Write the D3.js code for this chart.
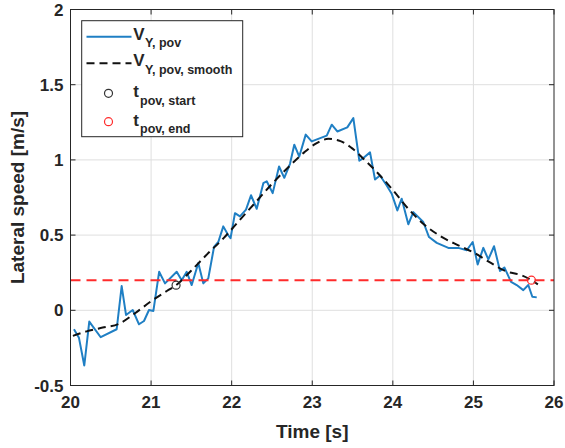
<!DOCTYPE html>
<html>
<head>
<meta charset="utf-8">
<script src="https://cdn.jsdelivr.net/npm/d3@7"></script>
<style>
  html, body { margin: 0; padding: 0; background: #fff; }
  svg text { font-family: "Liberation Sans", Arial, Helvetica, sans-serif; font-weight: bold; fill: #262626; }
</style>
</head>
<body>
<svg id="chart" width="565" height="448"></svg>
<script>
// Measured lateral speed (time in s, speed in m/s)
const rawTime = [20.043, 20.105, 20.171, 20.233, 20.375, 20.573, 20.635, 20.689, 20.772, 20.850,
  20.912, 20.974, 21.028, 21.100, 21.173, 21.318, 21.380, 21.442, 21.504, 21.586,
  21.648, 21.710, 21.781, 21.834, 21.896, 21.958, 21.986, 22.041, 22.103, 22.178,
  22.240, 22.311, 22.393, 22.435, 22.509, 22.588, 22.653, 22.724, 22.777, 22.839,
  22.919, 22.993, 23.180, 23.242, 23.311, 23.435, 23.510, 23.584, 23.634, 23.717,
  23.779, 23.841, 23.924, 23.986, 24.056, 24.110, 24.192, 24.254, 24.378, 24.449,
  24.545, 24.689, 24.813, 24.917, 24.991, 25.053, 25.123, 25.185, 25.256, 25.330,
  25.384, 25.467, 25.537, 25.619, 25.681, 25.731, 25.786];
const rawSpeed = [-0.126, -0.183, -0.367, -0.075, -0.179, -0.126, 0.161, -0.031, 0.002, -0.093,
  -0.071, 0.002, -0.005, 0.256, 0.179, 0.256, 0.200, 0.256, 0.168, 0.315,
  0.179, 0.212, 0.421, 0.454, 0.558, 0.499, 0.479, 0.646, 0.624, 0.669,
  0.765, 0.675, 0.845, 0.858, 0.779, 0.956, 0.881, 0.974, 1.101, 1.022,
  1.168, 1.123, 1.161, 1.234, 1.189, 1.216, 1.278, 0.995, 1.012, 1.050,
  0.870, 0.896, 0.830, 0.775, 0.664, 0.742, 0.572, 0.653, 0.587, 0.487,
  0.448, 0.415, 0.415, 0.399, 0.454, 0.305, 0.415, 0.338, 0.426, 0.262,
  0.285, 0.189, 0.168, 0.134, 0.168, 0.090, 0.086];

// Smoothed lateral speed
const smoothTime = [20.03, 20.2, 20.4, 20.6, 20.8, 21.0, 21.2, 21.31, 21.5, 21.7,
  21.9, 22.1, 22.3, 22.5, 22.7, 22.9, 23.05, 23.2, 23.35, 23.5,
  23.65, 23.8, 24.0, 24.2, 24.4, 24.6, 24.8, 25.0, 25.2, 25.4,
  25.6, 25.72, 25.8];
const smoothSpeed = [-0.17, -0.14, -0.115, -0.09, -0.02, 0.06, 0.13, 0.167, 0.265, 0.375,
  0.48, 0.6, 0.72, 0.84, 0.95, 1.05, 1.11, 1.14, 1.125, 1.075,
  1.0, 0.92, 0.8, 0.67, 0.565, 0.49, 0.435, 0.385, 0.32, 0.26,
  0.232, 0.2, 0.172];

// Threshold and event markers
const thresholdSpeed = 0.2;
const startTime = 21.31, startSpeed = 0.167;
const endTime = 25.72, endSpeed = 0.2;

// Axis ticks
const xTicks = [20, 21, 22, 23, 24, 25, 26];
const yTicks = [-0.5, 0, 0.5, 1, 1.5, 2];
const yTickLabels = ["-0.5", "0", "0.5", "1", "1.5", "2"];

const svg = d3.select("#chart");
const plotLeft = 70.5, plotRight = 554, plotTop = 9.5, plotBottom = 385.5;

const x = d3.scaleLinear().domain([20, 26]).range([plotLeft, plotRight]);
const y = d3.scaleLinear().domain([-0.5, 2]).range([plotBottom, plotTop]);

const axisColor = "#262626";

// Grid
const grid = svg.append("g");
grid.selectAll("line.gx").data(xTicks.slice(1, -1)).join("line")
  .attr("x1", d => x(d)).attr("x2", d => x(d)).attr("y1", plotTop).attr("y2", plotBottom)
  .attr("stroke", "#dfdfdf").attr("stroke-width", 1);
grid.selectAll("line.gy").data(yTicks.slice(1, -1)).join("line")
  .attr("y1", d => y(d)).attr("y2", d => y(d)).attr("x1", plotLeft).attr("x2", plotRight)
  .attr("stroke", "#dfdfdf").attr("stroke-width", 1);

// Data layers
svg.append("defs").append("clipPath").attr("id", "plotClip")
  .append("rect").attr("x", plotLeft).attr("y", plotTop)
  .attr("width", plotRight - plotLeft).attr("height", plotBottom - plotTop);
const plot = svg.append("g").attr("clip-path", "url(#plotClip)");

const rawData = rawTime.map((t, i) => [t, rawSpeed[i]]);
const smoothData = smoothTime.map((t, i) => [t, smoothSpeed[i]]);

plot.append("path").datum(rawData)
  .attr("d", d3.line().x(d => x(d[0])).y(d => y(d[1])))
  .attr("fill", "none").attr("stroke", "#1f7fc4").attr("stroke-width", 2)
  .attr("stroke-linejoin", "round");

plot.append("path").datum(smoothData)
  .attr("d", d3.line().x(d => x(d[0])).y(d => y(d[1])).curve(d3.curveMonotoneX))
  .attr("fill", "none").attr("stroke", "#111").attr("stroke-width", 2)
  .attr("stroke-dasharray", "8,5");

plot.append("line")
  .attr("x1", plotLeft).attr("x2", plotRight)
  .attr("y1", y(thresholdSpeed)).attr("y2", y(thresholdSpeed))
  .attr("stroke", "#ff2b2b").attr("stroke-width", 2).attr("stroke-dasharray", "10,6");

plot.append("circle").attr("cx", x(startTime)).attr("cy", y(startSpeed)).attr("r", 4)
  .attr("fill", "none").attr("stroke", "#333").attr("stroke-width", 1.2);
plot.append("circle").attr("cx", x(endTime)).attr("cy", y(endSpeed)).attr("r", 4)
  .attr("fill", "none").attr("stroke", "#ff2b2b").attr("stroke-width", 1.2);

// Axes box with inward ticks on all sides
const axes = svg.append("g");
axes.append("rect").attr("x", plotLeft).attr("y", plotTop)
  .attr("width", plotRight - plotLeft).attr("height", plotBottom - plotTop)
  .attr("fill", "none").attr("stroke", axisColor).attr("stroke-width", 1);
const tl = 5;
xTicks.forEach(t => {
  axes.append("line").attr("x1", x(t)).attr("x2", x(t)).attr("y1", plotBottom).attr("y2", plotBottom - tl).attr("stroke", axisColor);
  axes.append("line").attr("x1", x(t)).attr("x2", x(t)).attr("y1", plotTop).attr("y2", plotTop + tl).attr("stroke", axisColor);
});
yTicks.forEach(t => {
  axes.append("line").attr("x1", plotLeft).attr("x2", plotLeft + tl).attr("y1", y(t)).attr("y2", y(t)).attr("stroke", axisColor);
  axes.append("line").attr("x1", plotRight).attr("x2", plotRight - tl).attr("y1", y(t)).attr("y2", y(t)).attr("stroke", axisColor);
});

// Tick labels
axes.selectAll("text.xt").data(xTicks).join("text")
  .attr("x", d => x(d)).attr("y", plotBottom + 22).attr("text-anchor", "middle")
  .style("font-size", "17px").text(d => d);
axes.selectAll("text.yt").data(yTicks).join("text")
  .attr("x", plotLeft - 7).attr("y", d => y(d) + 6).attr("text-anchor", "end")
  .style("font-size", "17px").text((d, i) => yTickLabels[i]);

// Axis titles
svg.append("text").attr("x", (plotLeft + plotRight) / 2).attr("y", 438).attr("text-anchor", "middle")
  .style("font-size", "19px").text("Time [s]");
svg.append("text").attr("transform", `translate(24,${(plotTop + plotBottom) / 2}) rotate(-90)`)
  .attr("text-anchor", "middle").style("font-size", "19px").text("Lateral speed [m/s]");

// Legend
const lg = svg.append("g");
lg.append("rect").attr("x", 81.7).attr("y", 20.7).attr("width", 161).attr("height", 116)
  .attr("fill", "#fff").attr("stroke", axisColor).attr("stroke-width", 1);
lg.append("line").attr("x1", 86.5).attr("x2", 131.5).attr("y1", 36.7).attr("y2", 36.7)
  .attr("stroke", "#1f7fc4").attr("stroke-width", 2);
lg.append("line").attr("x1", 86.5).attr("x2", 131.5).attr("y1", 63.3).attr("y2", 63.3)
  .attr("stroke", "#111").attr("stroke-width", 2).attr("stroke-dasharray", "8,5");
lg.append("circle").attr("cx", 108.5).attr("cy", 93.3).attr("r", 4)
  .attr("fill", "none").attr("stroke", "#333").attr("stroke-width", 1.2);
lg.append("circle").attr("cx", 108.5).attr("cy", 121.7).attr("r", 4)
  .attr("fill", "none").attr("stroke", "#ff2b2b").attr("stroke-width", 1.2);

const entries = [
  { main: "V", sub: "Y, pov", y: 39.5, subX: 145 },
  { main: "V", sub: "Y, pov, smooth", y: 66, subX: 145 },
  { main: "t", sub: "pov, start", y: 97, subX: 140 },
  { main: "t", sub: "pov, end", y: 125.5, subX: 140 }
];
entries.forEach(e => {
  lg.append("text").attr("x", 133.3).attr("y", e.y).style("font-size", "17px").text(e.main);
  lg.append("text").attr("x", e.subX).attr("y", e.y + 7.5).style("font-size", "12.5px").text(e.sub);
});
</script>
</body>
</html>
